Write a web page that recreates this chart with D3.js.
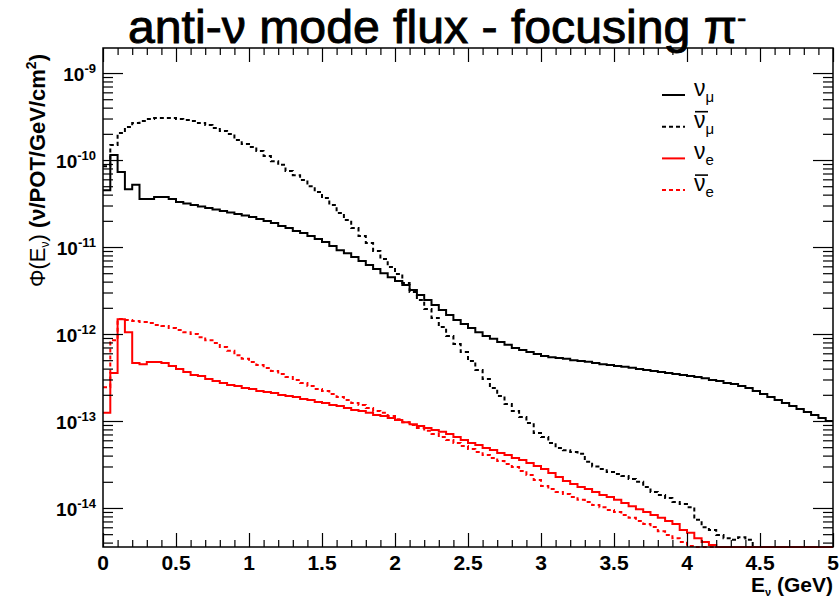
<!DOCTYPE html>
<html><head><meta charset="utf-8">
<script src="https://cdn.jsdelivr.net/npm/d3@7"></script>
<style>body{margin:0;background:#fff}svg{display:block}</style>
</head><body>
<svg id="chart" width="840" height="599"></svg>
<script>
// ---------- data ----------
const binWidth = 0.05; // GeV, 100 bins 0..5 GeV
const xTickLabels = ["0","0.5","1","1.5","2","2.5","3","3.5","4","4.5","5"];
const yDecades = [-9,-10,-11,-12,-13,-14];

const numu = [
4.5e-11,1.14e-10,7.3e-11,4.6e-11,5.2e-11,3.56e-11,3.56e-11,3.76e-11,3.76e-11,3.56e-11,
3.29e-11,3.16e-11,3.04e-11,2.92e-11,2.81e-11,2.70e-11,2.59e-11,2.49e-11,2.39e-11,2.30e-11,
2.21e-11,2.10e-11,1.99e-11,1.89e-11,1.74e-11,1.65e-11,1.53e-11,1.45e-11,1.34e-11,1.24e-11,
1.14e-11,1.03e-11,9.2e-12,8.5e-12,7.7e-12,6.9e-12,6.2e-12,5.6e-12,5.0e-12,4.5e-12,
4.07e-12,3.66e-12,3.2e-12,2.8e-12,2.46e-12,2.16e-12,1.89e-12,1.65e-12,1.45e-12,1.3e-12,
1.17e-12,1.05e-12,9.5e-13,8.8e-13,8.1e-13,7.5e-13,6.9e-13,6.55e-13,6.2e-13,5.9e-13,
5.6e-13,5.4e-13,5.3e-13,5.2e-13,5.0e-13,4.9e-13,4.8e-13,4.64e-13,4.5e-13,4.4e-13,
4.3e-13,4.2e-13,4.1e-13,3.96e-13,3.86e-13,3.76e-13,3.66e-13,3.56e-13,3.47e-13,3.38e-13,
3.3e-13,3.2e-13,3.1e-13,2.96e-13,2.88e-13,2.73e-13,2.66e-13,2.52e-13,2.39e-13,2.21e-13,
2.04e-13,1.89e-13,1.74e-13,1.61e-13,1.49e-13,1.37e-13,1.27e-13,1.17e-13,1.08e-13,1.0e-13];

const numubar = [
8.5e-11,1.49e-10,2.04e-10,2.39e-10,2.66e-10,2.81e-10,2.96e-10,3.04e-10,3.04e-10,3.04e-10,
2.96e-10,2.88e-10,2.81e-10,2.66e-10,2.52e-10,2.33e-10,2.16e-10,1.99e-10,1.70e-10,1.53e-10,
1.41e-10,1.27e-10,1.11e-10,9.7e-11,8.8e-11,7.5e-11,6.7e-11,5.9e-11,5.0e-11,4.3e-11,
3.66e-11,3.04e-11,2.46e-11,2.04e-11,1.65e-11,1.34e-11,1.11e-11,9.0e-12,7.3e-12,5.9e-12,
4.9e-12,3.86e-12,3.04e-12,2.46e-12,1.94e-12,1.53e-12,1.2e-12,9.5e-13,7.7e-13,6.2e-13,
4.9e-13,3.86e-13,3.04e-13,2.39e-13,1.94e-13,1.57e-13,1.3e-13,1.11e-13,9.5e-14,7.3e-14,
6.55e-14,5.6e-14,4.9e-14,4.6e-14,4.4e-14,4.2e-14,3.4e-14,3.0e-14,2.8e-14,2.6e-14,
2.46e-14,2.33e-14,2.16e-14,2.0e-14,1.74e-14,1.53e-14,1.41e-14,1.3e-14,1.17e-14,1.11e-14,
1.02e-14,7.3e-15,6.0e-15,5.6e-15,4.9e-15,4.5e-15,4.3e-15,4.6e-15,4.3e-15,0,
0,0,0,0,0,0,0,0,0,0];

const nue = [
1.24e-13,3.56e-13,1.48e-12,1.05e-12,4.65e-13,4.5e-13,4.77e-13,4.77e-13,4.65e-13,4.3e-13,
3.96e-13,3.66e-13,3.38e-13,3.3e-13,3.04e-13,2.88e-13,2.73e-13,2.6e-13,2.52e-13,2.39e-13,
2.33e-13,2.21e-13,2.16e-13,2.1e-13,1.99e-13,1.94e-13,1.89e-13,1.79e-13,1.74e-13,1.65e-13,
1.61e-13,1.53e-13,1.49e-13,1.41e-13,1.34e-13,1.3e-13,1.24e-13,1.17e-13,1.14e-13,1.08e-13,
1.03e-13,9.7e-14,9.2e-14,8.76e-14,8.3e-14,7.9e-14,7.5e-14,7.1e-14,6.55e-14,6.05e-14,
5.6e-14,5.3e-14,4.9e-14,4.64e-14,4.3e-14,4.07e-14,3.76e-14,3.56e-14,3.3e-14,3.04e-14,
2.81e-14,2.52e-14,2.27e-14,2.04e-14,1.89e-14,1.74e-14,1.65e-14,1.53e-14,1.41e-14,1.34e-14,
1.24e-14,1.14e-14,1.05e-14,9.7e-15,9.0e-15,8.3e-15,7.7e-15,7.1e-15,6.55e-15,5.6e-15,
5.2e-15,4.5e-15,4.07e-15,3.76e-15,0,0,0,0,0,0,
0,0,0,0,0,0,0,0,0,0];

const nuebar = [
2.45e-13,8.5e-13,1.49e-12,1.45e-12,1.41e-12,1.37e-12,1.34e-12,1.27e-12,1.24e-12,1.17e-12,
1.11e-12,1.05e-12,1.0e-12,9.2e-13,8.5e-13,7.9e-13,7.1e-13,6.4e-13,5.7e-13,5.2e-13,
4.77e-13,4.4e-13,4.07e-13,3.76e-13,3.47e-13,3.21e-13,2.96e-13,2.73e-13,2.52e-13,2.33e-13,
2.21e-13,2.04e-13,1.89e-13,1.74e-13,1.61e-13,1.53e-13,1.41e-13,1.3e-13,1.24e-13,1.14e-13,
1.05e-13,9.7e-14,9.0e-14,8.3e-14,7.7e-14,7.1e-14,6.55e-14,6.05e-14,5.6e-14,5.16e-14,
4.77e-14,4.4e-14,4.07e-14,3.76e-14,3.47e-14,3.2e-14,2.96e-14,2.66e-14,2.39e-14,2.1e-14,
1.79e-14,1.65e-14,1.53e-14,1.45e-14,1.34e-14,1.24e-14,1.17e-14,1.08e-14,1.02e-14,9.5e-15,
9.0e-15,8.3e-15,7.7e-15,7.1e-15,6.55e-15,6.05e-15,5.4e-15,4.9e-15,4.5e-15,4.07e-15,
3.66e-15,0,0,0,0,0,0,0,0,0,
0,0,0,0,0,0,0,0,0,0];

const legendItems = [
  {name:"ν", sub:"μ", bar:false, color:"#000", dash:null, data:numu},
  {name:"ν", sub:"μ", bar:true,  color:"#000", dash:"4,3", data:numubar},
  {name:"ν", sub:"e", bar:false, color:"#ff0000", dash:null, data:nue},
  {name:"ν", sub:"e", bar:true,  color:"#ff0000", dash:"4,3", data:nuebar}
];

// ---------- chart ----------
const svg = d3.select("#chart");
const M = {left:103, right:833, top:48, bottom:547};
const x = d3.scaleLinear().domain([0,5]).range([M.left, M.right]);
const y = d3.scaleLog().domain([3.56e-15, 1.94e-9]).range([M.bottom, M.top]);
const FONT = "'Liberation Sans', Arial, Helvetica, sans-serif";

svg.append("rect").attr("width",840).attr("height",599).attr("fill","#fff");

svg.append("clipPath").attr("id","clip").append("rect")
  .attr("x",M.left).attr("y",M.top).attr("width",M.right-M.left).attr("height",M.bottom-M.top+1);

function stepPoints(vals){
  const pts = [];
  vals.forEach((v,i)=>{
    const x0 = x(i*binWidth), x1 = x((i+1)*binWidth);
    let yy = v>0 ? y(v) : M.bottom;
    yy = Math.max(M.top, Math.min(M.bottom, yy));
    pts.push([x0,yy],[x1,yy]);
  });
  return pts;
}
const line = d3.line();
const drawOrder = [legendItems[0], legendItems[1], legendItems[3], legendItems[2]];
const gH = svg.append("g").attr("clip-path","url(#clip)");
drawOrder.forEach(s=>{
  gH.append("path").attr("d", line(stepPoints(s.data)))
    .attr("fill","none").attr("stroke", s.color).attr("stroke-width",2)
    .attr("stroke-dasharray", s.dash).attr("stroke-linejoin","miter");
});

// ---------- axes ----------
const axisColor = "#000";
const majorX = d3.range(0, 5.0001, 0.5);
const minorX = d3.range(0, 5.0001, 0.1).filter(v=>Math.abs(v*2-Math.round(v*2))>1e-6);
[[d3.axisBottom, M.bottom, -14, majorX],[d3.axisBottom, M.bottom, -7, minorX],
 [d3.axisTop, M.top, -14, majorX],[d3.axisTop, M.top, -7, minorX]].forEach(([ax,pos,sz,vals])=>{
  const g = svg.append("g").attr("transform",`translate(0,${pos})`);
  g.call(ax(x).tickValues(vals).tickSize(sz).tickFormat(""));
  g.select(".domain").remove();
});

const majorY = yDecades.map(d=>Math.pow(10,d));
const minorY = [];
for(let e=-15;e<=-9;e++) for(let k=2;k<=9;k++){ const v=k*Math.pow(10,e); if(v>=3.56e-15 && v<=1.94e-9) minorY.push(v); }
[[d3.axisLeft, M.left, -20, majorY],[d3.axisLeft, M.left, -10, minorY],
 [d3.axisRight, M.right, -20, majorY],[d3.axisRight, M.right, -10, minorY]].forEach(([ax,pos,sz,vals])=>{
  const g = svg.append("g").attr("transform",`translate(${pos},0)`);
  g.call(ax(y).tickValues(vals).tickSize(sz).tickFormat(""));
  g.select(".domain").remove();
});
svg.selectAll(".tick line").attr("stroke",axisColor).attr("stroke-width",1.2);

svg.append("rect").attr("x",M.left).attr("y",M.top)
  .attr("width",M.right-M.left).attr("height",M.bottom-M.top)
  .attr("fill","none").attr("stroke",axisColor).attr("stroke-width",1.5);

// x tick labels
svg.append("g").selectAll("text").data(majorX).join("text")
  .attr("x",d=>x(d)).attr("y",570).attr("text-anchor","middle")
  .attr("font-family",FONT).attr("font-weight","bold").attr("font-size",21)
  .text((d,i)=>xTickLabels[i]);

// y tick labels
const yl = svg.append("g").selectAll("text").data(yDecades).join("text")
  .attr("x",96).attr("y",d=>y(Math.pow(10,d))+8).attr("text-anchor","end")
  .attr("font-family",FONT).attr("font-weight","bold").attr("font-size",19);
yl.append("tspan").text("10");
yl.append("tspan").attr("dy",-8).attr("font-size",13).text(d=>String(d));

// x axis title
const xt = svg.append("text").attr("x",833).attr("y",592).attr("text-anchor","end")
  .attr("font-family",FONT).attr("font-weight","bold").attr("font-size",21);
xt.append("tspan").text("E");
xt.append("tspan").attr("dy",4).attr("font-size",11).text("ν");
xt.append("tspan").attr("dy",-4).text(" (GeV)");

// y axis title
const yt = svg.append("text").attr("transform","translate(45,54) rotate(-90)")
  .attr("text-anchor","end").attr("font-family",FONT).attr("font-weight","bold").attr("font-size",22);
yt.append("tspan").attr("font-weight","normal").text("Φ(E");
yt.append("tspan").attr("dy",4).attr("font-size",12).attr("font-weight","normal").text("ν");
yt.append("tspan").attr("dy",-4).attr("font-weight","normal").text(")");
yt.append("tspan").text(" (ν/POT/GeV/cm");
yt.append("tspan").attr("dy",-9).attr("font-size",14).text("2");
yt.append("tspan").attr("dy",9).text(")");

// title
const tt = svg.append("text").attr("x",128).attr("y",43)
  .attr("font-family",FONT).attr("font-size",46)
  .attr("stroke","#000").attr("stroke-width",0.9)
  .attr("textLength",609).attr("lengthAdjust","spacingAndGlyphs");
tt.append("tspan").text("anti-ν mode flux - focusing π");
svg.append("text").attr("x",737).attr("y",27).attr("font-family",FONT).attr("font-size",28)
  .attr("stroke","#000").attr("stroke-width",0.6).text("-");

// legend
const lg = svg.append("g");
legendItems.forEach((s,i)=>{
  const yy = 95 + i*31.7;
  lg.append("line").attr("x1",662).attr("x2",685).attr("y1",yy).attr("y2",yy)
    .attr("stroke",s.color).attr("stroke-width",2).attr("stroke-dasharray",s.dash);
  const t = lg.append("text").attr("x",694).attr("y",yy+1)
    .attr("font-family",FONT).attr("font-size",23);
  t.append("tspan").text(s.name);
  t.append("tspan").attr("dy",6).attr("font-size",15).text(s.sub);
  if(s.bar){
    lg.append("line").attr("x1",695).attr("x2",708).attr("y1",yy-15).attr("y2",yy-15)
      .attr("stroke","#000").attr("stroke-width",1.6);
  }
});
</script>
</body></html>
